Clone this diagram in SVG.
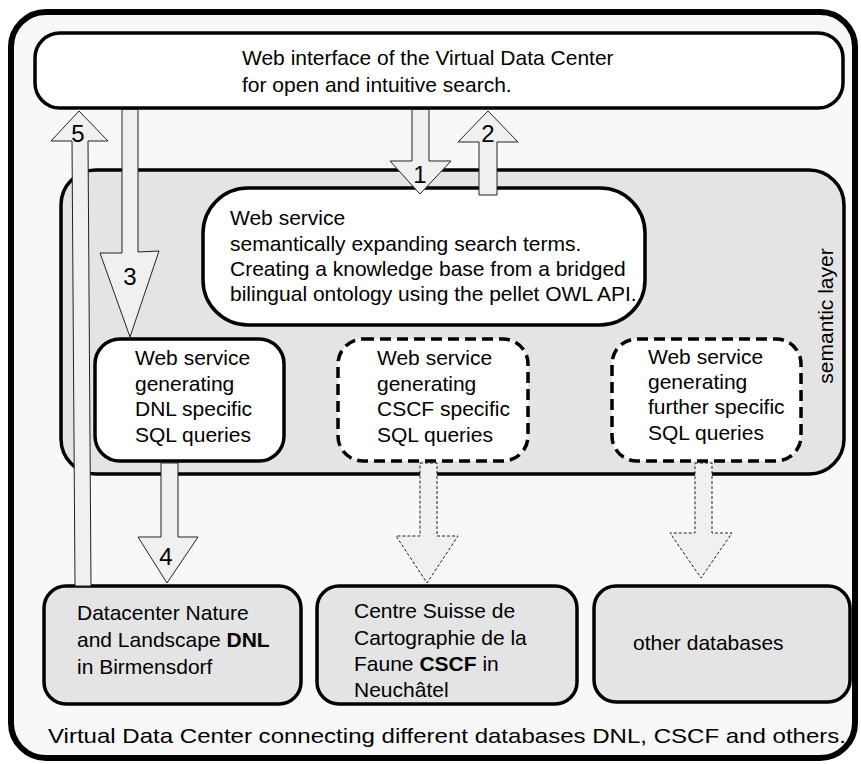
<svg xmlns="http://www.w3.org/2000/svg" width="861" height="764" viewBox="0 0 861 764">
<style>
text{font-family:"Liberation Sans",Arial,sans-serif;font-size:21px;fill:#000}
.box{stroke:#000;stroke-width:3.5}
.dash{stroke:#000;stroke-width:3.5;stroke-dasharray:11,6;fill:#fff}
.arr{fill:#f0f0f0;stroke:#222;stroke-width:1}
.arrd{fill:#f0f0f0;stroke:#222;stroke-width:1;stroke-dasharray:3,2}
.num{font-size:24px;text-anchor:middle}
</style>
<rect width="861" height="764" fill="#fff"/>
<g id="outer">
<rect x="11" y="12" width="844" height="746" rx="35" fill="#f8f8f8" stroke="#000" stroke-width="6"/>
<text x="48" y="743" font-size="22" textLength="798" lengthAdjust="spacingAndGlyphs">Virtual Data Center connecting different databases DNL, CSCF and others.</text>
</g>
<g id="web-interface">
<rect class="box" x="35" y="33" width="808" height="75" rx="25" fill="#fff"/>
<text x="242" y="65">Web interface of the Virtual Data Center</text>
<text x="242" y="92">for open and intuitive search.</text>
</g>
<g id="semantic-layer">
<rect class="box" x="61" y="170" width="783" height="304" rx="35" fill="#e4e4e4"/>
<text transform="translate(833,316) rotate(-90)" text-anchor="middle" font-size="20">semantic layer</text>
</g>
<g id="semantic-service">
<rect class="box" x="203" y="188" width="442" height="137" rx="45" fill="#fff"/>
<text x="230" y="225">Web service</text>
<text x="230" y="251">semantically expanding search terms.</text>
<text x="230" y="276">Creating a knowledge base from a bridged</text>
<text x="230" y="301">bilingual ontology using the pellet OWL API.</text>
</g>
<g id="dnl-service">
<rect class="box" x="95" y="339" width="189" height="122" rx="25" fill="#fff"/>
<text x="135" y="365">Web service</text>
<text x="135" y="391">generating</text>
<text x="135" y="416">DNL specific</text>
<text x="135" y="442">SQL queries</text>
</g>
<g id="cscf-service">
<rect class="dash" x="338" y="339" width="190" height="122" rx="25"/>
<text x="377" y="365">Web service</text>
<text x="377" y="391">generating</text>
<text x="377" y="416">CSCF specific</text>
<text x="377" y="442">SQL queries</text>
</g>
<g id="further-service">
<rect class="dash" x="612" y="339" width="189" height="122" rx="25"/>
<text x="648" y="364">Web service</text>
<text x="648" y="389">generating</text>
<text x="648" y="414">further specific</text>
<text x="648" y="440">SQL queries</text>
</g>
<g id="db-dnl">
<rect class="box" x="44" y="586" width="257" height="118" rx="22" fill="#e4e4e4"/>
<text x="77" y="620">Datacenter Nature</text>
<text x="77" y="647">and Landscape <tspan font-weight="bold">DNL</tspan></text>
<text x="77" y="674">in Birmensdorf</text>
</g>
<g id="db-cscf">
<rect class="box" x="317" y="586" width="260" height="118" rx="22" fill="#e4e4e4"/>
<text x="354" y="618">Centre Suisse de</text>
<text x="354" y="645">Cartographie de la</text>
<text x="354" y="671">Faune <tspan font-weight="bold">CSCF</tspan> in</text>
<text x="354" y="697">Neuchâtel</text>
</g>
<g id="db-other">
<rect class="box" x="594" y="586" width="256" height="116" rx="22" fill="#e4e4e4"/>
<text x="633" y="650">other databases</text>
</g>
<g id="connectors">
<polygon class="arr" points="79,111 108,141 88,141 91,586 75,586 72,141 51,141"/>
<text class="num" x="78" y="142">5</text>
<polygon class="arr" points="122,109.5 138,109.5 138,252 159,251 130,337 100,253 122,253"/>
<text class="num" x="130" y="285">3</text>
<polygon class="arr" points="412,109.5 429,109.5 429,161 451,161 420,194 390,161 412,161"/>
<text class="num" x="420" y="183">1</text>
<polygon class="arr" points="488,111 518,142 497,142 497,195 479,195 479,142 458,142"/>
<text class="num" x="488" y="142">2</text>
<polygon class="arr" points="161,463 178,463 178,537 198,537 167,583 138,537 161,537"/>
<text class="num" x="166" y="565">4</text>
<polygon class="arrd" points="420,463 437,463 437,536 458,536 427,583 396,536 420,536"/>
<polygon class="arrd" points="695,463 712,463 712,533 732,533 701,578 670,533 695,533"/>
</g>
</svg>
